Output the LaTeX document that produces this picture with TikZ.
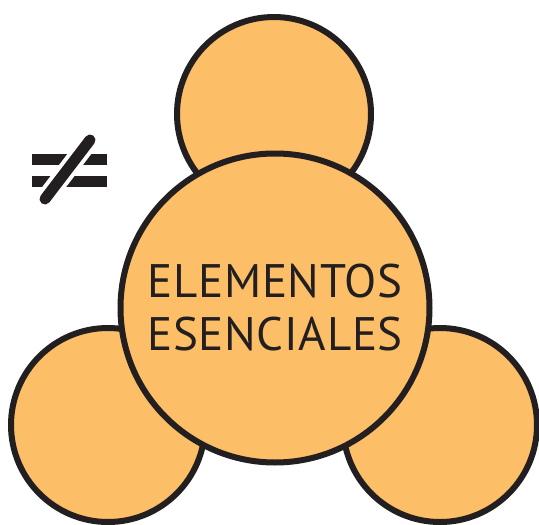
\documentclass[tikz,border=0pt]{standalone}
\usepackage{fontspec}
\setmainfont{PT Sans}
\usetikzlibrary{positioning}
\definecolor{petal}{HTML}{FCBE66}
\definecolor{ink}{HTML}{231F20}

\begin{document}
\begin{tikzpicture}[
    x=1pt, y=-1pt,
    petalnode/.style={circle, draw=ink, fill=petal, line width=6pt, minimum size=194pt, inner sep=0pt},
    corenode/.style={circle, draw=ink, fill=petal, line width=6pt, minimum size=309pt, inner sep=0pt,
        font=\fontsize{47}{53}\selectfont, text=ink, align=center},
    bar/.style={ink, line width=11pt},
    slash/.style={ink, line width=11pt, line cap=round}
]
\useasboundingbox (0,0) rectangle (539,525);

% ---------- Outer circles ----------
\node[petalnode] (Ptop) at (274,114) {};
\node[petalnode] (Pleft) at (108,425) {};
\node[petalnode] (Pright) at (440,425) {};

% ---------- Central circle ----------
\node[corenode] (Core) at (275,308) {\addfontfeature{LetterSpace=1.5}ELEMENTOS\\\addfontfeature{LetterSpace=1.5}ESENCIALES};

% ---------- Not-equal sign ----------
\coordinate (Nbot) at (45,199);
\coordinate (Ntop) at (90,140);
\draw[bar] (32,159) -- (107,159);
\draw[bar] (32,181) -- (107,181);
\draw[white, line width=19pt] (Nbot) -- (Ntop);
\draw[slash] (Nbot) -- (Ntop);

\end{tikzpicture}
\end{document}
